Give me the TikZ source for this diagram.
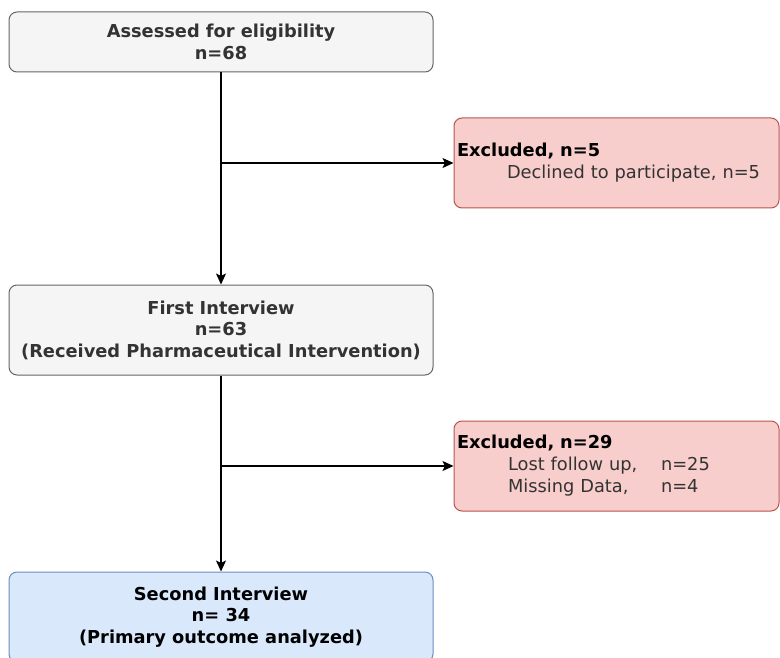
\documentclass[tikz,border=0pt]{standalone}
\usepackage{fontspec}
\setmainfont{DejaVu Sans}
\usetikzlibrary{arrows.meta,positioning}

\definecolor{stagefill}{HTML}{F5F5F5}
\definecolor{stageline}{HTML}{666666}
\definecolor{stagetext}{HTML}{333333}
\definecolor{exclfill}{HTML}{F8CECC}
\definecolor{exclline}{HTML}{B85450}
\definecolor{outfill}{HTML}{DAE8FC}
\definecolor{outline}{HTML}{6C8EBF}

\begin{document}
\begin{tikzpicture}[x=1pt,y=-1pt,>={Stealth[length=11pt,width=10pt,inset=2.5pt]},line width=1.2pt]
		\tikzstyle{stage}=[draw=stageline,fill=stagefill,text=stagetext,rounded corners=8pt,
			minimum width=424pt,inner sep=0pt,align=center,line width=1pt,
			font=\bfseries\fontsize{17.8}{21.5}\selectfont]
		\tikzstyle{outcome}=[stage,draw=outline,fill=outfill,text=black]
		\tikzstyle{excluded}=[stage,draw=exclline,fill=exclfill,text=black,
			minimum width=325pt,minimum height=90pt,inner xsep=3pt,text width=319pt,align=left,
			font=\bfseries\fontsize{17.8}{22}\selectfont]

		\useasboundingbox (0,0) rectangle (780,658);
		\clip (0,0) rectangle (780,658);

		\node[stage,minimum height=60pt] (assess) at (221,42) {Assessed for eligibility\\n=68};
		\node[stage,minimum height=90pt] (first) at (221,330) {First Interview\\n=63\\(Received Pharmaceutical Intervention)};
		\node[outcome,minimum height=90pt] (second) at (221,617) {Second Interview\\n= 34\\(Primary outcome analyzed)};

		\node[excluded] (excl1) at (616.5,163) {Excluded, n=5\\
			\hspace*{50pt}\mdseries\color{stagetext}Declined to participate, n=5};
		\node[excluded] (excl2) at (616.5,466) {Excluded, n=29\\
			\hspace*{51pt}\mdseries\color{stagetext}\makebox[153pt][l]{Lost follow up,}n=25\\
			\hspace*{51pt}\makebox[153pt][l]{Missing Data,}n=4};

		\coordinate (split1) at (assess.south |- excl1.west);
		\coordinate (split2) at (first.south |- excl2.west);

		\path[->]
		(assess) edge (first)
		(first) edge (second)
		(split1) edge (excl1)
		(split2) edge (excl2);
	\end{tikzpicture}
\end{document}
